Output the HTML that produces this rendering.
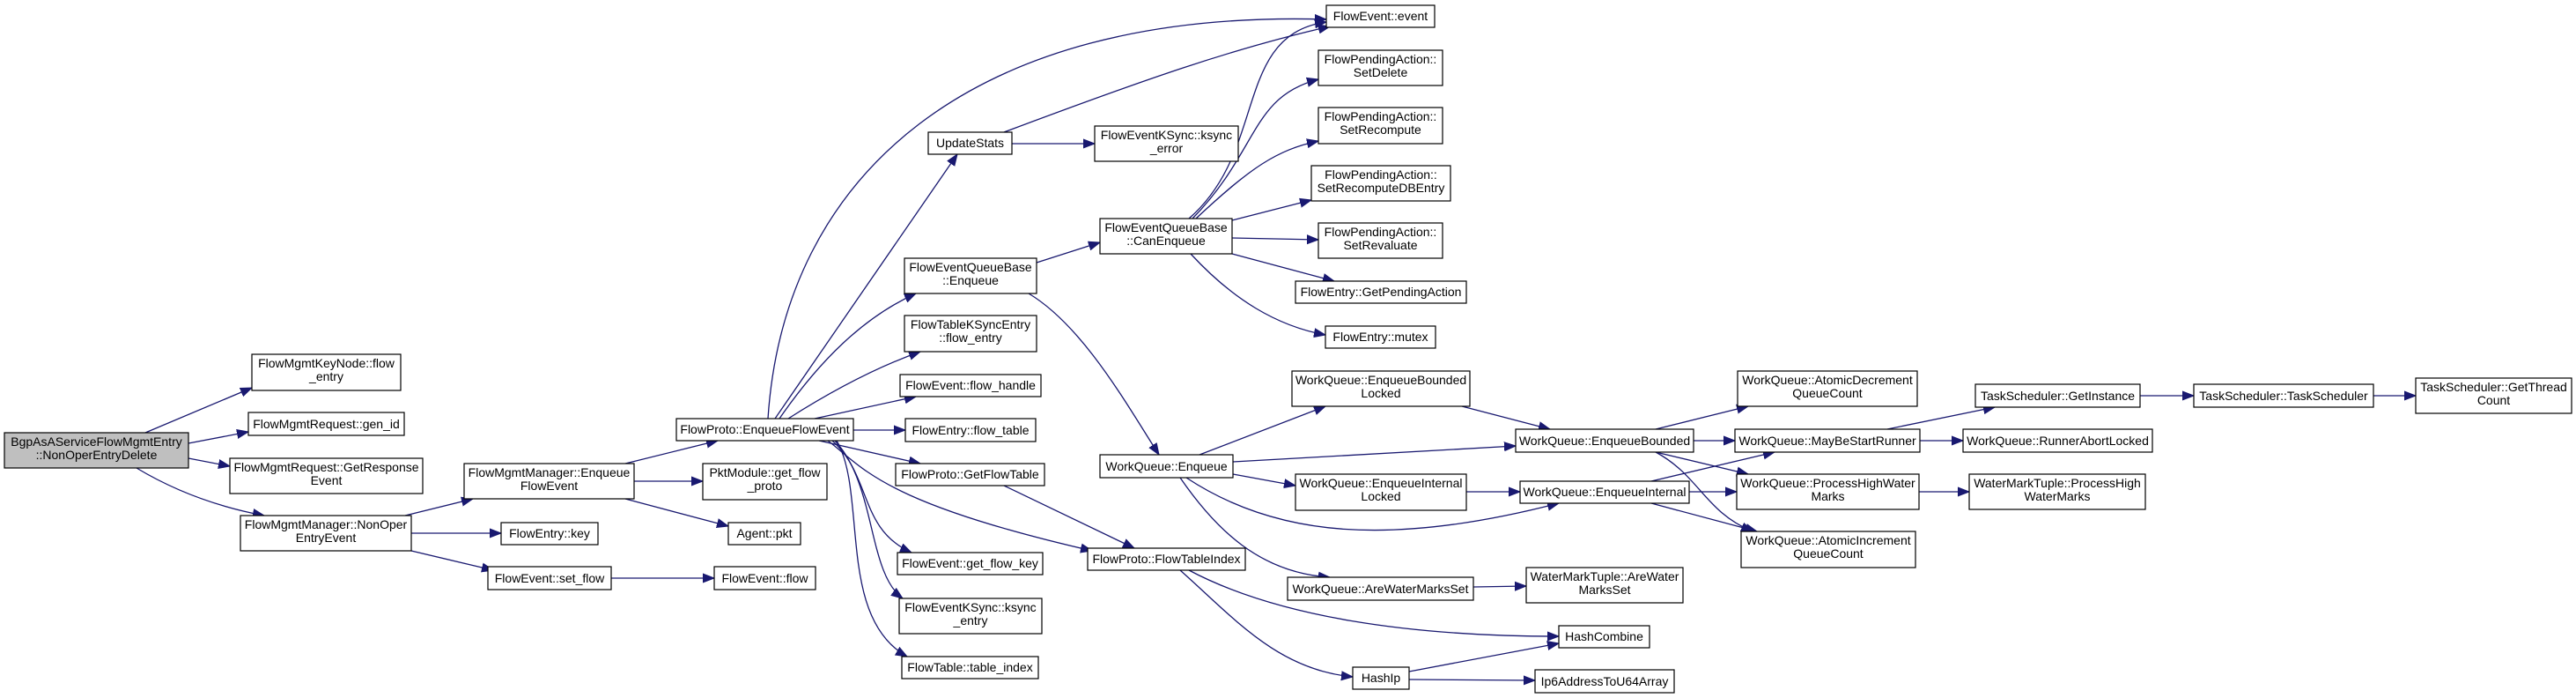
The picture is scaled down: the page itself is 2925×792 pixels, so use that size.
<!DOCTYPE html>
<html><head><meta charset="utf-8"><style>
html,body{margin:0;padding:0;background:#fff;}
svg{display:block;}
text{font-family:"Liberation Sans",Arial,sans-serif;font-size:14px;fill:#000;text-anchor:middle;}
rect{fill:#fff;stroke:#000;stroke-width:1.2;}
path{fill:none;stroke:#191970;stroke-width:1.3;}
</style></head><body>
<svg width="2925" height="792" viewBox="0 0 2925 792" xmlns="http://www.w3.org/2000/svg">
<defs><marker id="a" markerUnits="userSpaceOnUse" markerWidth="14" markerHeight="12" refX="13" refY="6" orient="auto"><polygon points="0,1 13,6 0,11" fill="#191970" stroke="#191970"/></marker></defs>
<g marker-end="url(#a)">
<path d="M165,491 L286,440"/>
<path d="M214,503 L282,490"/>
<path d="M214,520 L261,529"/>
<path d="M155,531 Q220,570 300,585"/>
<path d="M460,585 L537,566"/>
<path d="M467,605 L569,605"/>
<path d="M467,625 L560,647"/>
<path d="M694,656 L811,656"/>
<path d="M710,526 L815,500"/>
<path d="M720,546 L798,546"/>
<path d="M710,566 L827,597"/>
<path d="M872,475 C890,200 1100,10 1506,22"/>
<path d="M880,475 L1087,175"/>
<path d="M885,475 C930,410 980,360 1040,333"/>
<path d="M895,475 C950,440 1000,415 1045,399"/>
<path d="M925,475 L1040,450"/>
<path d="M969,488 L1028,488"/>
<path d="M930,500 L1045,526"/>
<path d="M940,500 C980,530 1000,570 1240,625"/>
<path d="M945,500 C990,540 975,600 1035,627"/>
<path d="M948,500 C995,550 985,650 1025,679"/>
<path d="M950,500 C985,560 950,700 1030,745"/>
<path d="M1140,150 C1300,90 1400,55 1510,30"/>
<path d="M1149,163 L1243,163"/>
<path d="M1177,298 L1249,275"/>
<path d="M1168,333 C1230,370 1280,460 1316,516"/>
<path d="M1350,248 C1440,170 1400,40 1506,25"/>
<path d="M1354,248 C1430,170 1420,110 1497,90"/>
<path d="M1358,248 C1420,190 1450,170 1497,160"/>
<path d="M1399,250 L1489,227"/>
<path d="M1399,270 L1497,272"/>
<path d="M1399,288 L1515,319"/>
<path d="M1352,288 C1400,340 1450,370 1505,380"/>
<path d="M1362,516 L1505,461"/>
<path d="M1400,524 L1721,506"/>
<path d="M1400,538 L1471,551"/>
<path d="M1347,542 C1450,610 1580,620 1770,571"/>
<path d="M1340,542 C1380,600 1430,650 1510,655"/>
<path d="M1660,461 L1760,487"/>
<path d="M1665,558 L1726,558"/>
<path d="M1673,666 L1733,665"/>
<path d="M1140,551 L1288,622"/>
<path d="M1350,647 C1450,700 1600,722 1770,722"/>
<path d="M1340,647 C1400,700 1450,760 1536,768"/>
<path d="M1600,762 L1770,730"/>
<path d="M1600,771 L1743,772"/>
<path d="M1880,487 L1985,461"/>
<path d="M1923,500 L1970,500"/>
<path d="M1880,513 L1985,538"/>
<path d="M1880,513 C1930,540 1935,580 1990,603"/>
<path d="M1875,546 L2015,513"/>
<path d="M1918,558 L1972,558"/>
<path d="M1875,571 L1995,603"/>
<path d="M2143,487 L2265,462"/>
<path d="M2180,500 L2229,500"/>
<path d="M2179,558 L2236,558"/>
<path d="M2430,449 L2491,449"/>
<path d="M2695,449 L2743,449"/>
</g>
<g>
<rect x="5" y="491" width="209" height="40" style="fill:#bfbfbf"/><text x="109.5" y="506">BgpAsAServiceFlowMgmtEntry</text><text x="109.5" y="521">::NonOperEntryDelete</text>
<rect x="286" y="402" width="169" height="41"/><text x="370.5" y="417">FlowMgmtKeyNode::flow</text><text x="370.5" y="432">_entry</text>
<rect x="282" y="468" width="177" height="26"/><text x="370.5" y="486">FlowMgmtRequest::gen_id</text>
<rect x="261" y="520" width="219" height="40"/><text x="370.5" y="535">FlowMgmtRequest::GetResponse</text><text x="370.5" y="550">Event</text>
<rect x="273" y="585" width="194" height="40"/><text x="370" y="600">FlowMgmtManager::NonOper</text><text x="370" y="615">EntryEvent</text>
<rect x="527" y="526" width="193" height="40"/><text x="623.5" y="541">FlowMgmtManager::Enqueue</text><text x="623.5" y="556">FlowEvent</text>
<rect x="569" y="593" width="110" height="25"/><text x="624" y="610">FlowEntry::key</text>
<rect x="554" y="643" width="140" height="26"/><text x="624" y="661">FlowEvent::set_flow</text>
<rect x="768" y="475" width="201" height="25"/><text x="868.5" y="492">FlowProto::EnqueueFlowEvent</text>
<rect x="798" y="526" width="141" height="41"/><text x="868.5" y="541">PktModule::get_flow</text><text x="868.5" y="556">_proto</text>
<rect x="827" y="593" width="82" height="25"/><text x="868" y="610">Agent::pkt</text>
<rect x="811" y="643" width="115" height="26"/><text x="868.5" y="661">FlowEvent::flow</text>
<rect x="1506" y="6" width="123" height="25"/><text x="1567.5" y="23">FlowEvent::event</text>
<rect x="1497" y="57" width="141" height="40"/><text x="1567.5" y="72">FlowPendingAction::</text><text x="1567.5" y="87">SetDelete</text>
<rect x="1497" y="122" width="141" height="41"/><text x="1567.5" y="137">FlowPendingAction::</text><text x="1567.5" y="152">SetRecompute</text>
<rect x="1489" y="188" width="158" height="40"/><text x="1568" y="203">FlowPendingAction::</text><text x="1568" y="218">SetRecomputeDBEntry</text>
<rect x="1497" y="253" width="141" height="40"/><text x="1567.5" y="268">FlowPendingAction::</text><text x="1567.5" y="283">SetRevaluate</text>
<rect x="1471" y="319" width="194" height="25"/><text x="1568" y="336">FlowEntry::GetPendingAction</text>
<rect x="1505" y="370" width="125" height="25"/><text x="1567.5" y="387">FlowEntry::mutex</text>
<rect x="1054" y="150" width="95" height="25"/><text x="1101.5" y="167">UpdateStats</text>
<rect x="1243" y="143" width="163" height="40"/><text x="1324.5" y="158">FlowEventKSync::ksync</text><text x="1324.5" y="173">_error</text>
<rect x="1249" y="248" width="150" height="40"/><text x="1324" y="263">FlowEventQueueBase</text><text x="1324" y="278">::CanEnqueue</text>
<rect x="1027" y="293" width="150" height="40"/><text x="1102" y="308">FlowEventQueueBase</text><text x="1102" y="323">::Enqueue</text>
<rect x="1027" y="358" width="150" height="41"/><text x="1102" y="373">FlowTableKSyncEntry</text><text x="1102" y="388">::flow_entry</text>
<rect x="1022" y="425" width="160" height="25"/><text x="1102" y="442">FlowEvent::flow_handle</text>
<rect x="1028" y="475" width="148" height="26"/><text x="1102" y="493">FlowEntry::flow_table</text>
<rect x="1017" y="526" width="169" height="25"/><text x="1101.5" y="543">FlowProto::GetFlowTable</text>
<rect x="1019" y="627" width="165" height="25"/><text x="1101.5" y="644">FlowEvent::get_flow_key</text>
<rect x="1021" y="679" width="162" height="40"/><text x="1102" y="694">FlowEventKSync::ksync</text><text x="1102" y="709">_entry</text>
<rect x="1024" y="745" width="155" height="25"/><text x="1101.5" y="762">FlowTable::table_index</text>
<rect x="1249" y="516" width="151" height="26"/><text x="1324.5" y="534">WorkQueue::Enqueue</text>
<rect x="1235" y="622" width="179" height="25"/><text x="1324.5" y="639">FlowProto::FlowTableIndex</text>
<rect x="1467" y="421" width="202" height="40"/><text x="1568" y="436">WorkQueue::EnqueueBounded</text><text x="1568" y="451">Locked</text>
<rect x="1471" y="538" width="194" height="41"/><text x="1568" y="553">WorkQueue::EnqueueInternal</text><text x="1568" y="568">Locked</text>
<rect x="1462" y="655" width="211" height="26"/><text x="1567.5" y="673">WorkQueue::AreWaterMarksSet</text>
<rect x="1536" y="757" width="64" height="25"/><text x="1568" y="774">HashIp</text>
<rect x="1721" y="487" width="202" height="26"/><text x="1822" y="505">WorkQueue::EnqueueBounded</text>
<rect x="1726" y="546" width="192" height="25"/><text x="1822" y="563">WorkQueue::EnqueueInternal</text>
<rect x="1733" y="644" width="178" height="40"/><text x="1822" y="659">WaterMarkTuple::AreWater</text><text x="1822" y="674">MarksSet</text>
<rect x="1770" y="710" width="103" height="25"/><text x="1821.5" y="727">HashCombine</text>
<rect x="1743" y="760" width="158" height="26"/><text x="1822" y="778">Ip6AddressToU64Array</text>
<rect x="1973" y="421" width="204" height="40"/><text x="2075" y="436">WorkQueue::AtomicDecrement</text><text x="2075" y="451">QueueCount</text>
<rect x="1970" y="487" width="210" height="26"/><text x="2075" y="505">WorkQueue::MayBeStartRunner</text>
<rect x="1972" y="538" width="207" height="40"/><text x="2075.5" y="553">WorkQueue::ProcessHighWater</text><text x="2075.5" y="568">Marks</text>
<rect x="1977" y="603" width="198" height="41"/><text x="2076" y="618">WorkQueue::AtomicIncrement</text><text x="2076" y="633">QueueCount</text>
<rect x="2243" y="436" width="187" height="26"/><text x="2336.5" y="454">TaskScheduler::GetInstance</text>
<rect x="2229" y="487" width="215" height="26"/><text x="2336.5" y="505">WorkQueue::RunnerAbortLocked</text>
<rect x="2236" y="538" width="200" height="40"/><text x="2336" y="553">WaterMarkTuple::ProcessHigh</text><text x="2336" y="568">WaterMarks</text>
<rect x="2491" y="436" width="204" height="26"/><text x="2593" y="454">TaskScheduler::TaskScheduler</text>
<rect x="2743" y="429" width="177" height="40"/><text x="2831.5" y="444">TaskScheduler::GetThread</text><text x="2831.5" y="459">Count</text>
</g>
</svg>
</body></html>
